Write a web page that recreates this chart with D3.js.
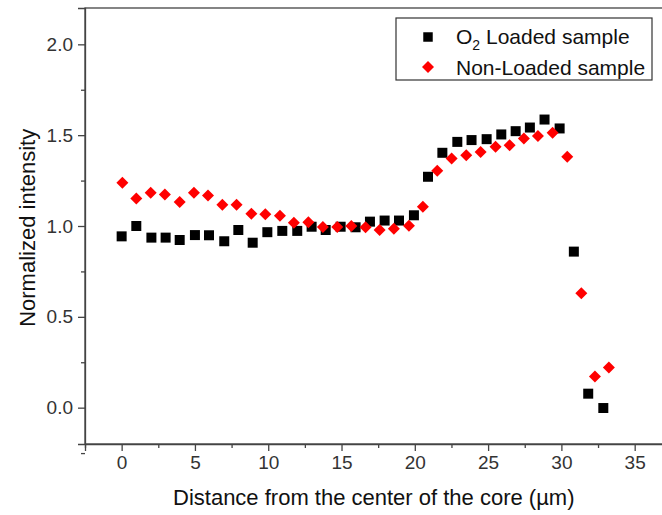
<!DOCTYPE html>
<html>
<head>
<meta charset="utf-8">
<script src="https://cdn.jsdelivr.net/npm/d3@7"></script>
<style>
  body { margin: 0; background: #fff; }
  text { font-family: "Liberation Sans", Arial, sans-serif; }
</style>
</head>
<body>
<div id="graph"></div>
<script>
// O2 loaded sample (black squares)
let loadedX = [0, 1.0, 2.03, 3.0, 3.96, 5.0, 5.96, 7.0, 7.96, 8.94, 9.94, 10.96, 11.98, 12.96, 13.92, 14.94, 15.96, 16.94, 17.94, 18.92, 19.94, 20.9, 21.88, 22.9, 23.87, 24.9, 25.9, 26.88, 27.85, 28.85, 29.88, 30.85, 31.83, 32.86]
let loadedY = [0.943, 1.0, 0.936, 0.936, 0.923, 0.95, 0.949, 0.916, 0.978, 0.908, 0.966, 0.973, 0.973, 0.996, 0.978, 0.996, 0.993, 1.024, 1.03, 1.03, 1.059, 1.271, 1.403, 1.463, 1.473, 1.478, 1.504, 1.522, 1.542, 1.586, 1.537, 0.859, 0.077, -0.002]

// Non-loaded sample (red diamonds)
let nonLoadedX = [0.05, 1.0, 1.98, 2.95, 3.96, 4.93, 5.89, 6.87, 7.84, 8.85, 9.8, 10.8, 11.75, 12.74, 13.73, 14.71, 15.67, 16.64, 17.6, 18.57, 19.6, 20.55, 21.53, 22.51, 23.51, 24.49, 25.51, 26.47, 27.44, 28.4, 29.4, 30.4, 31.36, 32.29, 33.24]
let nonLoadedY = [1.238, 1.152, 1.183, 1.174, 1.132, 1.183, 1.168, 1.117, 1.117, 1.068, 1.064, 1.057, 1.018, 1.02, 0.995, 0.995, 1.0, 0.993, 0.978, 0.985, 1.002, 1.106, 1.304, 1.372, 1.39, 1.408, 1.436, 1.445, 1.482, 1.495, 1.513, 1.381, 0.63, 0.172, 0.221]

let xTicks = [0, 5, 10, 15, 20, 25, 30, 35]
let xMinor = [-2.5, 2.5, 7.5, 12.5, 17.5, 22.5, 27.5, 32.5]
let yTicks = [0, 0.5, 1.0, 1.5, 2.0]
let yMinor = [-0.25, 0.25, 0.75, 1.25, 1.75]

let W = 662, H = 515
let margin = { top: 8, right: -2, bottom: 71, left: 85 },
    width = W - margin.left - margin.right,
    height = H - margin.top - margin.bottom;

let svg = d3.select("#graph")
    .append("svg")
    .attr("width", W)
    .attr("height", H)
    .append("g")
    .attr("transform", "translate(" + margin.left + "," + margin.top + ")");

let x = d3.scaleLinear().domain([-2.5, 37]).range([0, width])
let y = d3.scaleLinear().domain([-0.2, 2.2]).range([height, 0])

let axisColor = "#444"

// frame
svg.append("rect")
    .attr("x", 0).attr("y", 0)
    .attr("width", width).attr("height", height)
    .attr("fill", "none")
    .attr("stroke", axisColor)
    .attr("stroke-width", 1.3)

// X axis
svg.append("g")
    .attr("transform", "translate(0," + height + ")")
    .call(d3.axisBottom(x).tickValues(xTicks).tickSize(7).tickPadding(5).tickFormat(d3.format("d")))
svg.append("g")
    .attr("transform", "translate(0," + height + ")")
    .call(d3.axisBottom(x).tickValues(xMinor).tickSize(4).tickFormat(""))
    .call(g => g.select(".domain").remove())

// Y axis
svg.append("g")
    .call(d3.axisLeft(y).tickValues(yTicks).tickSize(7).tickPadding(5).tickFormat(d3.format(".1f")))
svg.append("g")
    .call(d3.axisLeft(y).tickValues(yMinor).tickSize(4).tickFormat(""))
    .call(g => g.select(".domain").remove())

svg.selectAll(".domain").attr("stroke", axisColor).attr("stroke-width", 1.3)
svg.selectAll(".tick line").attr("stroke", axisColor).attr("stroke-width", 1.3)
svg.selectAll(".tick text")
    .attr("fill", "#333")
    .style("font-size", "19px")
    .style("font-family", "'Liberation Sans', Arial, sans-serif")

// axis titles
svg.append("text")
    .attr("x", x(17.2))
    .attr("y", height + 61)
    .attr("text-anchor", "middle")
    .attr("fill", "#111")
    .style("font-size", "22px")
    .text("Distance from the center of the core (µm)")

svg.append("text")
    .attr("transform", "translate(" + (-50) + "," + y(0.99) + ") rotate(-90)")
    .attr("text-anchor", "middle")
    .attr("fill", "#111")
    .style("font-size", "22px")
    .text("Normalized intensity")

// points
let loaded = loadedX.map((v, i) => ({ x: v, y: loadedY[i] }))
let nonLoaded = nonLoadedX.map((v, i) => ({ x: v, y: nonLoadedY[i] }))

let squareSym = d3.symbol().type(d3.symbolSquare).size(100)
let diamondSym = d3.symbol().type(d3.symbolSquare).size(72)

svg.append("g")
    .selectAll("path")
    .data(loaded)
    .join("path")
    .attr("d", squareSym)
    .attr("transform", d => "translate(" + x(d.x) + "," + y(d.y) + ")")
    .attr("fill", "#000")

svg.append("g")
    .selectAll("path")
    .data(nonLoaded)
    .join("path")
    .attr("d", diamondSym)
    .attr("transform", d => "translate(" + x(d.x) + "," + y(d.y) + ") rotate(45)")
    .attr("fill", "#ff0000")

// legend
let legend = svg.append("g").attr("transform", "translate(" + (396 - margin.left) + "," + (18 - margin.top) + ")")
legend.append("rect")
    .attr("width", 256).attr("height", 62)
    .attr("fill", "#fff")
    .attr("stroke", "#333")
    .attr("stroke-width", 1.2)

legend.append("path")
    .attr("d", d3.symbol().type(d3.symbolSquare).size(90))
    .attr("transform", "translate(32,19)")
    .attr("fill", "#000")
legend.append("path")
    .attr("d", diamondSym)
    .attr("transform", "translate(32,49) rotate(45)")
    .attr("fill", "#ff0000")

let t1 = legend.append("text")
    .attr("x", 60).attr("y", 26)
    .attr("fill", "#111")
    .style("font-size", "21px")
t1.append("tspan").text("O")
t1.append("tspan").attr("dy", 6).style("font-size", "14px").text("2")
t1.append("tspan").attr("dy", -6).text(" Loaded sample")

legend.append("text")
    .attr("x", 60).attr("y", 57)
    .attr("fill", "#111")
    .style("font-size", "21px")
    .text("Non-Loaded sample")
</script>
</body>
</html>
